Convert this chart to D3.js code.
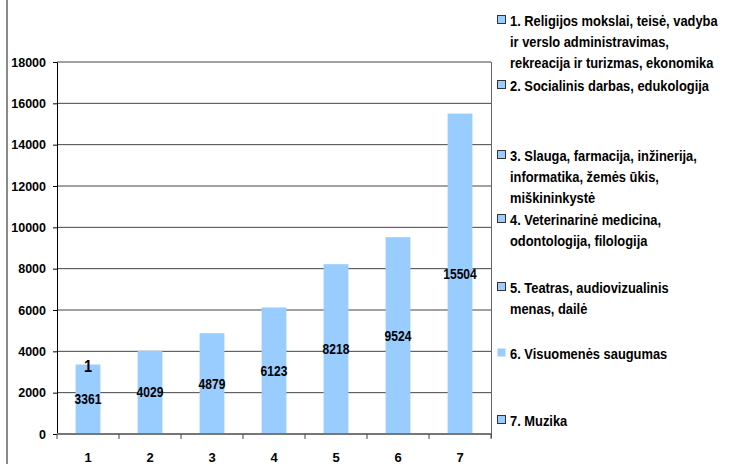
<!DOCTYPE html>
<html>
<head>
<meta charset="utf-8">
<script src="https://cdn.jsdelivr.net/npm/d3@7"></script>
<style>
  body { margin: 0; background: #fff; }
  text { font-family: "Liberation Sans", Arial, sans-serif; font-weight: bold; fill: #000; }
</style>
</head>
<body>
<div id="chart"></div>
<script>
const categories = ['1', '2', '3', '4', '5', '6', '7'];
const values = [3361, 4029, 4879, 6123, 8218, 9524, 15504];
const yTicks = [0, 2000, 4000, 6000, 8000, 10000, 12000, 14000, 16000, 18000];
const legendItems = [
    ['1. Religijos mokslai, teisė, vadyba', 'ir verslo administravimas,', 'rekreacija ir turizmas, ekonomika'],
    ['2. Socialinis darbas, edukologija'],
    ['3. Slauga, farmacija, inžinerija,', 'informatika, žemės ūkis,', 'miškininkystė'],
    ['4. Veterinarinė medicina,', 'odontologija, filologija'],
    ['5. Teatras, audiovizualinis', 'menas, dailė'],
    ['6. Visuomenės saugumas'],
    ['7. Muzika']
];
const legendY = [20, 85, 155, 219, 287, 353, 420];

const width = 738, height = 464;
const margin = { top: 62, left: 57, right: 247, bottom: 30 };
const barColor = '#99ccff';
const squeeze = 0.86; // text in the original looks horizontally condensed

const svg = d3.select('#chart').append('svg')
    .attr('width', width)
    .attr('height', height);

// left border of the picture
svg.append('line')
    .attr('x1', 7).attr('x2', 7).attr('y1', 0).attr('y2', height)
    .attr('stroke', '#8a8a8a').attr('stroke-width', 2);

const x = d3.scaleBand()
    .domain(categories)
    .range([margin.left, width - margin.right])
    .paddingInner(0.6)
    .paddingOuter(0.3);

const y = d3.scaleLinear()
    .domain([0, 18000])
    .range([height - margin.bottom, margin.top]);

const x0 = x.range()[0], x1 = x.range()[1];

// gridlines
svg.selectAll('.grid')
    .data(yTicks.filter(d => d > 0))
    .enter().append('line')
    .attr('x1', x0).attr('x2', x1)
    .attr('y1', d => y(d)).attr('y2', d => y(d))
    .attr('stroke', '#444').attr('stroke-width', 1);

// right frame
svg.append('line')
    .attr('x1', x1 + 0.5).attr('x2', x1 + 0.5)
    .attr('y1', y(18000)).attr('y2', y(0) + 4)
    .attr('stroke', '#666').attr('stroke-width', 1);

// bars
svg.selectAll('.bar')
    .data(values)
    .enter().append('rect')
    .attr('x', (d, i) => x(categories[i]))
    .attr('y', d => y(d))
    .attr('width', x.bandwidth())
    .attr('height', d => y(0) - y(d))
    .attr('fill', barColor);

// y axis
const yAxis = svg.append('g')
    .attr('transform', `translate(${x0},0)`)
    .call(d3.axisLeft(y).tickValues(yTicks).tickSize(4).tickPadding(7).tickFormat(d3.format('d')));
yAxis.select('.domain').attr('stroke', '#000');
yAxis.selectAll('.tick line').attr('stroke', '#000');
yAxis.selectAll('text').style('font-size', '12.5px').style('font-family', '"Liberation Sans", Arial, sans-serif');

// x axis
svg.append('line')
    .attr('x1', x0).attr('x2', x1)
    .attr('y1', y(0)).attr('y2', y(0))
    .attr('stroke', '#777').attr('stroke-width', 2);
svg.selectAll('.xtick')
    .data(d3.range(categories.length + 1))
    .enter().append('line')
    .attr('x1', i => x0 + i * x.step()).attr('x2', i => x0 + i * x.step())
    .attr('y1', y(0)).attr('y2', y(0) + 5)
    .attr('stroke', '#444');
svg.selectAll('.xlabel')
    .data(categories)
    .enter().append('text')
    .attr('x', d => x(d) + x.bandwidth() / 2)
    .attr('y', y(0) + 28)
    .attr('text-anchor', 'middle')
    .style('font-size', '13px')
    .text(d => d);

// value labels in the middle of bars
svg.selectAll('.vlabel')
    .data(values)
    .enter().append('text')
    .attr('transform', (d, i) => `translate(${x(categories[i]) + x.bandwidth() / 2},${y(d / 2) + 5}) scale(${squeeze},1)`)
    .attr('text-anchor', 'middle')
    .style('font-size', '14px')
    .text(d => d);

// stray "1" label at top of first bar
svg.append('text')
    .attr('transform', `translate(${x(categories[0]) + x.bandwidth() / 2},${y(values[0]) + 7}) scale(${squeeze},1)`)
    .attr('text-anchor', 'middle')
    .style('font-size', '17px')
    .text('1');

// legend
const legend = svg.append('g');
legendItems.forEach((lines, i) => {
    const ly = legendY[i];
    legend.append('rect')
        .attr('x', 497.5).attr('y', ly - 4.5)
        .attr('width', 8).attr('height', 8)
        .attr('fill', barColor)
        .attr('stroke', i === 5 ? 'none' : '#333')
        .attr('stroke-width', 1);
    lines.forEach((t, j) => {
        legend.append('text')
            .attr('transform', `translate(510,${ly + j * 21 + 5.5}) scale(${squeeze},1)`)
            .style('font-size', '15px')
            .text(t);
    });
});
</script>
</body>
</html>
